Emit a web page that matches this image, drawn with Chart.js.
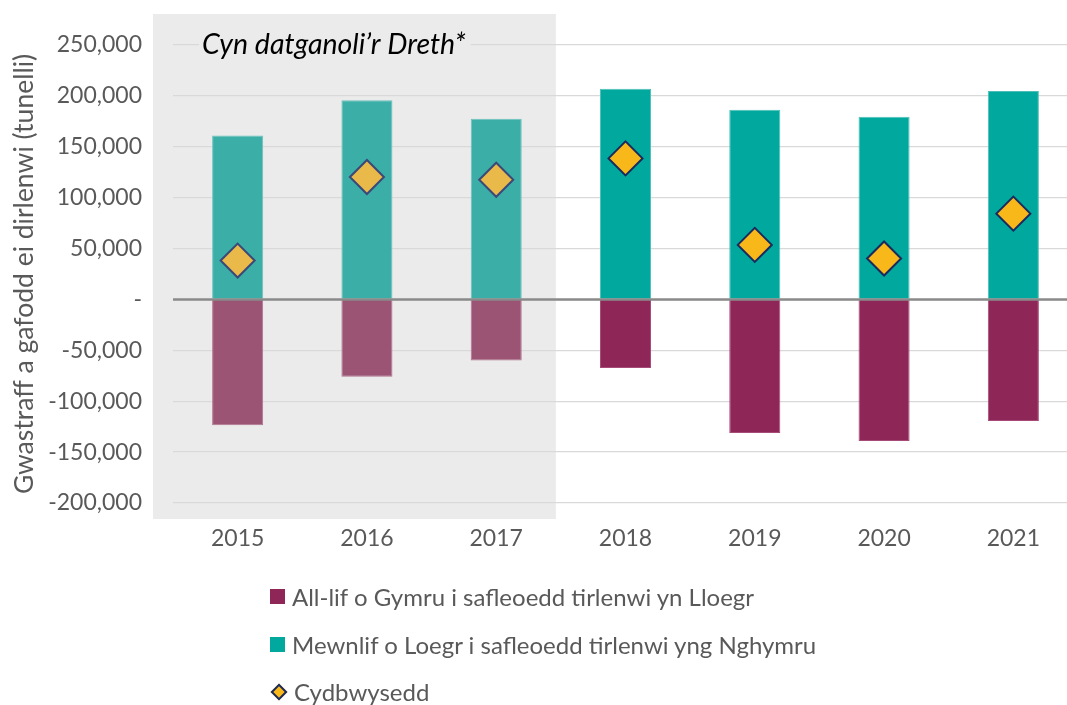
<!DOCTYPE html>
<html>
<head>
<meta charset="utf-8">
<script src="https://cdn.jsdelivr.net/npm/chart.js@4.4.1/dist/chart.umd.min.js"></script>
<style>
body { margin: 0; overflow: hidden; background: #fff; font-family: Lato, sans-serif; }
#wrap { position: relative; width: 1097px; height: 705px; }
#legend { position: absolute; left: 270px; top: 573px; color: #595959; font-size: 24px; }
.item { height: 47.5px; display: flex; align-items: center; }
.box { width: 15px; height: 15px; margin-right: 7px; }
.dia { width: 8px; height: 8px; border: 2px solid #1b2a5e; background: #f8b81a; transform: rotate(45deg); margin: 0 9px 0 3px; }
</style>
</head>
<body>
<div id="wrap">
  <canvas id="myChart" width="1097" height="705"></canvas>
  <div id="legend"></div>
</div>
<script>
// data
const years = ['2015', '2016', '2017', '2018', '2019', '2020', '2021'];
const outflow = [-123700, -76000, -59900, -67400, -131300, -139100, -119500];
const inflow = [161000, 195600, 177500, 206900, 186300, 179400, 204900];
const balance = [38200, 120300, 117600, 138600, 53600, 40200, 84300];
const yTicks = [-200000, -150000, -100000, -50000, 0, 50000, 100000, 150000, 200000, 250000];
const seriesNames = [
    'All-lif o Gymru i safleoedd tirlenwi yn Lloegr',
    'Mewnlif o Loegr i safleoedd tirlenwi yng Nghymru',
    'Cydbwysedd'
];
const preDevolution = 3; // first 3 years sit in the grey box
const boxLabel = 'Cyn datganoli\u2019r Dreth*';
const yTitle = 'Gwastraff a gafodd ei dirlenwi (tunelli)';

const grey = '#595959';
const shade = '#ebebeb';

function byYear(light, dark) {
    return years.map(function (y, i) { return i < preDevolution ? light : dark; });
}

const shadePlugin = {
    id: 'shade',
    beforeDraw(chart) {
        const c = chart.ctx, a = chart.chartArea, x = chart.scales.x, y = chart.scales.y;
        const right = (x.getPixelForValue(preDevolution - 1) + x.getPixelForValue(preDevolution)) / 2 - 5;
        c.save();
        c.fillStyle = shade;
        c.fillRect(a.left - 20, y.getPixelForValue(250000) - 31, right - a.left + 20, a.bottom - a.top + 47);
        c.restore();
    },
    beforeDatasetsDraw(chart) {
        const c = chart.ctx, a = chart.chartArea, y = chart.scales.y;
        c.save();
        c.font = 'italic 28.5px Lato';
        const w = c.measureText(boxLabel).width;
        const tx = a.left + 29, ty = y.getPixelForValue(250000);
        c.fillStyle = shade;
        c.fillRect(tx - 3, ty - 4, w + 8, 8);
        c.fillStyle = '#000';
        c.textBaseline = 'middle';
        c.fillText(boxLabel, tx, ty);
        c.restore();
    },
    afterDatasetsDraw(chart) {
        const c = chart.ctx, a = chart.chartArea, y = chart.scales.y;
        const zy = y.getPixelForValue(0);
        c.save();
        c.strokeStyle = '#8a8a8a';
        c.lineWidth = 2.5;
        c.beginPath();
        c.moveTo(a.left, zy);
        c.lineTo(a.right, zy);
        c.stroke();
        c.restore();
    }
};

var ctx = document.getElementById('myChart').getContext('2d');
var chart = new Chart(ctx, {
    type: 'bar',
    data: {
        labels: years,
        datasets: [{
            type: 'line',
            label: seriesNames[2],
            data: balance,
            showLine: false,
            pointStyle: 'rectRot',
            pointRadius: 17,
            pointHoverRadius: 17,
            pointBackgroundColor: byYear('#e9b949', '#f8b81a'),
            pointBorderColor: byYear('#3c4878', '#1b2a5e'),
            pointBorderWidth: 2,
            stack: 'bal',
            order: 0
        }, {
            label: seriesNames[0],
            data: outflow,
            backgroundColor: byYear('#9b5473', '#8e2658'),
            borderColor: byYear('#b07390', '#a64a78'),
            borderWidth: 1,
            stack: 'flow',
            order: 1
        }, {
            label: seriesNames[1],
            data: inflow,
            backgroundColor: byYear('#3aaea7', '#00a89d'),
            borderColor: byYear('#6cc2bd', '#4cc0b8'),
            borderWidth: 1,
            stack: 'flow',
            order: 1
        }]
    },
    options: {
        responsive: false,
        animation: false,
        categoryPercentage: 1,
        barPercentage: 0.395,
        layout: { padding: { top: 45, left: 0, right: 0, bottom: 142 } },
        plugins: { legend: { display: false }, tooltip: { enabled: false } },
        scales: {
            x: {
                stacked: true,
                grid: { display: false },
                border: { display: false },
                ticks: { color: grey, font: { family: 'Lato', size: 23 }, padding: 14 },
                afterFit: function (s) { s.height = 60; }
            },
            y: {
                stacked: true,
                min: yTicks[0],
                max: yTicks[yTicks.length - 1],
                afterBuildTicks: function (s) { s.ticks = yTicks.map(function (v) { return { value: v }; }); },
                afterFit: function (s) { s.width = 173; },
                grid: { color: '#d9d9d9', lineWidth: 1.3, drawTicks: false },
                border: { display: false },
                ticks: {
                    color: grey,
                    font: { family: 'Lato', size: 23 },
                    padding: 31,
                    callback: function (v) { return v === 0 ? '-' : v.toLocaleString('en-GB'); }
                },
                title: {
                    display: true,
                    text: yTitle,
                    color: grey,
                    font: { family: 'Lato', size: 26.5 },
                    padding: { top: 9, bottom: 0 }
                }
            }
        }
    },
    plugins: [shadePlugin]
});

// legend below the chart, same order as the reference
var legend = document.getElementById('legend');
var legendRows = [
    { name: seriesNames[0], color: '#8e2658' },
    { name: seriesNames[1], color: '#00a89d' },
    { name: seriesNames[2], diamond: true }
];
legendRows.forEach(function (r) {
    var row = document.createElement('div');
    row.className = 'item';
    var m = document.createElement('span');
    if (r.diamond) {
        m.className = 'dia';
    } else {
        m.className = 'box';
        m.style.background = r.color;
    }
    row.appendChild(m);
    row.appendChild(document.createTextNode(r.name));
    legend.appendChild(row);
});
</script>
</body>
</html>
